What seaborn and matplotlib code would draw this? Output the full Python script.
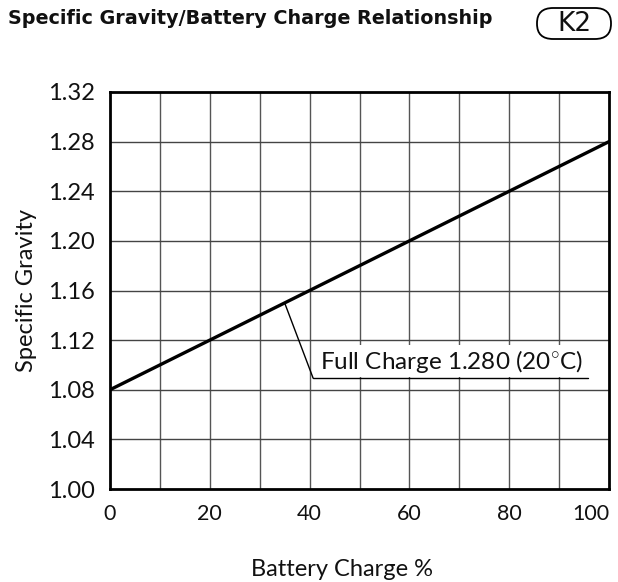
import numpy as np
import pandas as pd
import matplotlib
matplotlib.use("Agg")
import matplotlib.pyplot as plt
from matplotlib import font_manager
from matplotlib.patches import FancyBboxPatch
import seaborn as sns

# Battery charge (%) versus electrolyte specific gravity
charge = [0, 20, 40, 60, 80, 100]
gravity = [1.08, 1.12, 1.16, 1.20, 1.24, 1.28]

x_ticks = [0, 20, 40, 60, 80, 100]
y_ticks = [1.00, 1.04, 1.08, 1.12, 1.16, 1.20, 1.24, 1.28, 1.32]
y_tick_labels = ["1.00", "1.04", "1.08", "1.12", "1.16", "1.20", "1.24", "1.28", "1.32"]

title_text = "Specific Gravity/Battery Charge Relationship"
badge_text = "K2"
note_text = "Full Charge 1.280 (20$^{\\circ}$C)"
note_charge = 35  # where the leader touches the line

sns.set_theme(style="white")

available = {f.name for f in font_manager.fontManager.ttflist}
body = "Lato" if "Lato" in available else "DejaVu Sans"
plt.rcParams["font.family"] = [body, "DejaVu Sans"]
plt.rcParams["mathtext.fontset"] = "custom"
plt.rcParams["mathtext.rm"] = body

df = pd.DataFrame({"Battery Charge %": charge, "Specific Gravity": gravity})

W, H = 618, 582
fig = plt.figure(figsize=(W / 100, H / 100), dpi=100)
left, right, top, bottom = 110, 609, 92, 489
ax = fig.add_axes([left / W, 1 - bottom / H, (right - left) / W, (bottom - top) / H])

sns.lineplot(data=df, x="Battery Charge %", y="Specific Gravity", ax=ax,
             color="black", linewidth=2.4, zorder=4)

ax.set_xlim(0, 100)
ax.set_ylim(1.00, 1.32)

# grid: every 10 % across, every 0.04 up
for xv in range(10, 100, 10):
    ax.axvline(xv, color="#555555", linewidth=1.0, zorder=1)
for yv in y_ticks[1:-1]:
    ax.axhline(yv, color="#444444", linewidth=1.0, zorder=1)

for sp in ax.spines.values():
    sp.set_visible(True)
    sp.set_color("black")
    sp.set_linewidth(2.0)

ax.set_xticks(x_ticks)
ax.set_xticklabels([str(v) for v in x_ticks])
ax.set_yticks(y_ticks)
ax.set_yticklabels(y_tick_labels)
ax.tick_params(axis="both", length=0, colors="#111111")
ax.tick_params(axis="x", pad=11, labelsize=15.5)
ax.tick_params(axis="y", pad=11, labelsize=17)
xt = ax.get_xticklabels()
xt[-1].set_horizontalalignment("right")

ax.set_xlabel("Battery Charge %", fontsize=17, color="#111111")
ax.set_ylabel("Specific Gravity", fontsize=17, color="#111111")
ax.xaxis.set_label_coords((342 - left) / (right - left), -0.176)
ax.yaxis.set_label_coords(-(left - 37) / (right - left), 0.5)

# callout: leader from the line down to an underlined note
p_y = np.interp(note_charge, charge, gravity)
elbow = (40.7, 1.0894)
ax.plot([note_charge, elbow[0]], [p_y, elbow[1]], color="black", linewidth=1.0, zorder=5)
ax.plot([elbow[0], 95.8], [elbow[1], elbow[1]], color="black", linewidth=1.0, zorder=5)
ax.text(42.0, 1.0922, note_text, fontsize=17.5, color="#111111", ha="left", va="bottom",
        zorder=5, bbox=dict(facecolor="white", edgecolor="none", pad=2.0))

# header
fig.text(8 / W, 1 - 19 / H, title_text, fontsize=13.8, fontweight="bold",
         family="DejaVu Sans", ha="left", va="center", color="#111111")
badge = FancyBboxPatch((537 / W, 1 - 39 / H), (611 - 537) / W, (39 - 8) / H,
                       boxstyle="round,pad=0,rounding_size=0.026",
                       transform=fig.transFigure, facecolor="white",
                       edgecolor="black", linewidth=1.3)
fig.patches.append(badge)
fig.text(574 / W, 1 - 24 / H, badge_text, fontsize=19, family="DejaVu Sans",
         ha="center", va="center", color="#111111")

fig.savefig("out.png", dpi=100, facecolor="white")
